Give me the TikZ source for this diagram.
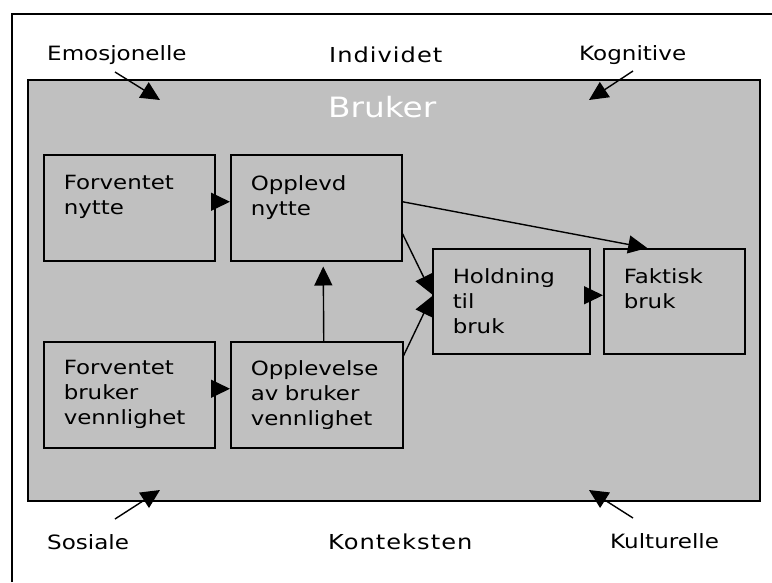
\documentclass[tikz,border=0pt]{standalone}
\usepackage{fontspec}
\setmainfont{DejaVu Sans}[FakeStretch=1.17]
\newfontfamily\spacedfont{DejaVu Sans}[FakeStretch=1.17,LetterSpace=5]
\usepackage{xcolor}
\usetikzlibrary{arrows.meta}
\definecolor{panelgray}{RGB}{192,192,192}
\tikzset{
  tam frame/.style={line width=1.5pt},
  tam panel/.style={draw,fill=panelgray,line width=1.5pt,anchor=north west,inner sep=0pt},
  tam box/.style={draw,fill=panelgray,line width=1.5pt,anchor=north west,inner xsep=20pt,inner ysep=0pt,
    align=left,minimum height=106pt,font=\fontsize{19.6}{25}\selectfont},
  tam arrow/.style={line width=1.4pt,-{Triangle[length=19pt,width=18pt]}},
  tam label/.style={anchor=base west,inner sep=0pt,font=\fontsize{19.7}{24}\selectfont},
  tam heading/.style={anchor=base west,inner sep=0pt,font=\spacedfont\fontsize{20.6}{24}\selectfont},
  tam title/.style={anchor=base west,inner sep=0pt,text=white,font=\fontsize{28}{30}\selectfont}
}

\begin{document}
\begin{tikzpicture}[x=1pt,y=-1pt]
  \useasboundingbox (0,0) rectangle (772,582);
  \draw[tam frame] (12,582) -- (12,14) -- (772,14);
  \node[tam heading] (individ) at (329,62) {Individet};
  \node[tam heading] (kontekst) at (328,549) {Konteksten};
  \node[tam panel,minimum width=732pt,minimum height=421pt] (bruker) at (27,79) {};
  \node[tam title] (brukertxt) at (328,117) {Bruker};
  \foreach \nm/\txt/\x/\y/\sx/\sy/\ex/\ey in {
      emo/Emosjonelle/47/60/115/72/160/100,
      kog/Kognitive/579/60/633/71/589/100,
      sos/Sosiale/47/549/115/519/160/490,
      kul/Kulturelle/610/548/633/518/589/490} {
    \node[tam label] (\nm) at (\x,\y) {\txt};
    \coordinate (\nm-s) at (\sx,\sy);
    \coordinate (\nm-e) at (\ex,\ey);
    \draw[tam arrow] (\nm-s) -- (\nm-e);
  }
  \node[tam box,text width=131pt] (fnytte) at (43,154) {Forventet\\nytte\\\mbox{}};
  \node[tam box,text width=131pt] (onytte) at (230,154) {Opplevd\\nytte\\\mbox{}};
  \node[tam box,text width=131pt] (fvenn) at (43,341) {Forventet\\bruker\\vennlighet};
  \node[tam box,text width=132pt] (ovenn) at (230,341) {Opplevelse\\av bruker\\vennlighet};
  \node[tam box,text width=117pt,minimum height=105pt] (hold) at (432,248) {Holdning\\til\\bruk};
  \node[tam box,text width=101pt,minimum height=105pt] (fakt) at (603,248) {Faktisk\\bruk\\\mbox{}};
  \draw[tam arrow] ([yshift=6pt]fnytte.east) -- ([yshift=6pt]onytte.west);
  \draw[tam arrow] ([yshift=6pt]fvenn.east) -- ([yshift=6pt]ovenn.west);
  \draw[tam arrow] ([xshift=7pt]ovenn.north) -- ([xshift=7pt,yshift=-5pt]onytte.south);
  \draw[tam arrow] ([yshift=-26pt]onytte.east) -- ([yshift=7pt]hold.west);
  \draw[tam arrow] ([yshift=39pt]ovenn.east) -- ([yshift=5pt]hold.west);
  \draw[tam arrow] ([yshift=6pt]hold.east) -- ([yshift=6pt]fakt.west);
  \draw[tam arrow] ([yshift=6pt]onytte.east) -- ([xshift=-27pt]fakt.north);
\end{tikzpicture}
\end{document}
